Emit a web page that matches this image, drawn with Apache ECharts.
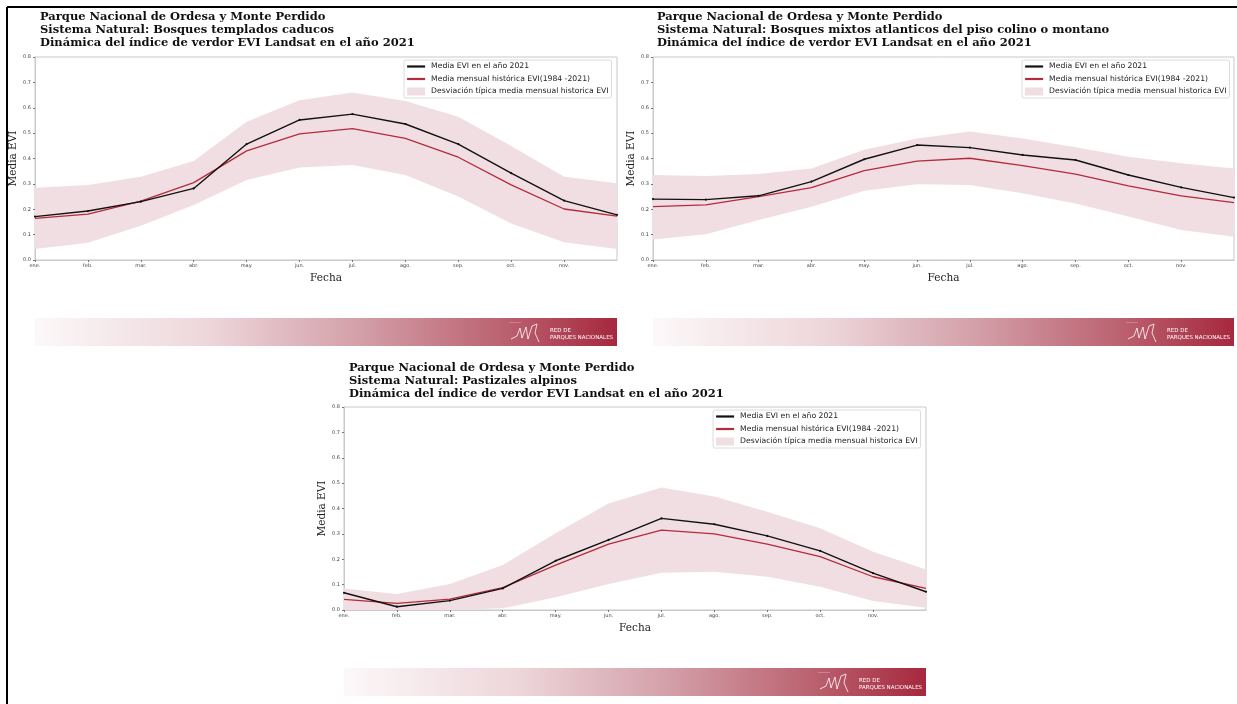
<!DOCTYPE html>
<html>
<head>
<meta charset="utf-8">
<script src="https://cdn.jsdelivr.net/npm/echarts@6/dist/echarts.min.js"></script>
<style>html,body{margin:0;padding:0;background:#fff}#c{width:1237px;height:704px}</style>
</head>
<body>
<div id="c"></div>
<script>
// ---- data ----
const months = ['ene.', 'feb.', 'mar.', 'abr.', 'may.', 'jun.', 'jul.', 'ago.', 'sep.', 'oct.', 'nov.', 'dic.'];
const yTicks = [0.0, 0.1, 0.2, 0.3, 0.4, 0.5, 0.6, 0.7, 0.8];

const titleParque = 'Parque Nacional de Ordesa y Monte Perdido';
const titleDinamica = 'Dinámica del índice de verdor EVI Landsat en el año 2021';
const sistemas = [
  'Sistema Natural: Bosques templados caducos',
  'Sistema Natural: Bosques mixtos atlanticos del piso colino o montano',
  'Sistema Natural: Pastizales alpinos'
];
const legendNames = ['Media EVI en el año 2021', 'Media mensual histórica EVI(1984 -2021)', 'Desviación típica media mensual historica EVI'];

// Bosques templados caducos
const caducos2021 = [0.171, 0.193, 0.230, 0.282, 0.457, 0.552, 0.575, 0.536, 0.457, 0.342, 0.234, 0.178];
const caducosHist = [0.164, 0.181, 0.232, 0.305, 0.430, 0.497, 0.518, 0.479, 0.405, 0.296, 0.201, 0.173];
const caducosSup  = [0.285, 0.296, 0.328, 0.390, 0.545, 0.630, 0.660, 0.627, 0.565, 0.449, 0.328, 0.302];
const caducosInf  = [0.043, 0.068, 0.135, 0.217, 0.315, 0.365, 0.374, 0.335, 0.250, 0.144, 0.070, 0.043];

// Bosques mixtos atlanticos
const mixtos2021 = [0.240, 0.238, 0.253, 0.309, 0.397, 0.453, 0.443, 0.414, 0.394, 0.335, 0.286, 0.246];
const mixtosHist = [0.210, 0.217, 0.250, 0.285, 0.352, 0.390, 0.401, 0.372, 0.338, 0.292, 0.253, 0.226];
const mixtosSup  = [0.335, 0.331, 0.339, 0.361, 0.434, 0.479, 0.506, 0.479, 0.444, 0.407, 0.381, 0.361];
const mixtosInf  = [0.081, 0.101, 0.158, 0.210, 0.273, 0.299, 0.296, 0.263, 0.223, 0.171, 0.118, 0.092];

// Pastizales alpinos
const pastizales2021 = [0.068, 0.013, 0.037, 0.085, 0.194, 0.276, 0.361, 0.338, 0.292, 0.233, 0.145, 0.072];
const pastizalesHist = [0.042, 0.026, 0.043, 0.088, 0.177, 0.260, 0.315, 0.300, 0.260, 0.210, 0.131, 0.085];
const pastizalesSup  = [0.085, 0.063, 0.102, 0.177, 0.302, 0.420, 0.483, 0.447, 0.387, 0.322, 0.230, 0.160];
const pastizalesInf  = [0.000, 0.000, 0.000, 0.007, 0.050, 0.102, 0.147, 0.151, 0.131, 0.092, 0.035, 0.009];

// ---- layout / styles ----
const panels = [
  {sistema: sistemas[0], y21: caducos2021, hist: caducosHist, sup: caducosSup, inf: caducosInf,
   grid: {left: 35, top: 57, width: 582, height: 203}, title: {left: 40, top: 11}, legend: {left: 404, top: 60},
   banner: {x: 35, y: 318, w: 582, h: 28}},
  {sistema: sistemas[1], y21: mixtos2021, hist: mixtosHist, sup: mixtosSup, inf: mixtosInf,
   grid: {left: 653, top: 57, width: 581, height: 203}, title: {left: 657, top: 11}, legend: {left: 1022, top: 60},
   banner: {x: 653, y: 318, w: 581, h: 28}},
  {sistema: sistemas[2], y21: pastizales2021, hist: pastizalesHist, sup: pastizalesSup, inf: pastizalesInf,
   grid: {left: 344, top: 407, width: 582, height: 203}, title: {left: 349, top: 362}, legend: {left: 713, top: 410},
   banner: {x: 344, y: 668, w: 582, h: 28}}
];

const BLACK = '#111111';
const RED = '#b52b3c';
const PINK = '#f0dee2';
const AXIS = '#c9c9c9';

const option = {
  animation: false,
  backgroundColor: '#ffffff',
  title: [], grid: [], xAxis: [], yAxis: [], legend: [], series: [], graphic: []
};

panels.forEach((p, i) => {
  option.title.push({
    text: titleParque + '\n' + p.sistema + '\n' + titleDinamica,
    left: p.title.left, top: p.title.top, padding: 0,
    textStyle: {fontFamily: 'DejaVu Serif', fontWeight: 'bold', fontSize: 11.5, lineHeight: 13, color: '#111'}
  });
  option.grid.push(Object.assign({show: true, borderColor: AXIS, borderWidth: 1, backgroundColor: '#fff'}, p.grid));
  option.xAxis.push({
    type: 'category', gridIndex: i, data: months, boundaryGap: false,
    name: 'Fecha', nameLocation: 'middle', nameGap: 13,
    nameTextStyle: {fontFamily: 'DejaVu Serif', fontSize: 10.5, color: '#222'},
    axisLine: {show: true, lineStyle: {color: AXIS, width: 1}},
    axisTick: {show: true, length: 2, lineStyle: {color: '#777'}, interval: (idx) => idx < months.length - 1, alignWithLabel: true},
    axisLabel: {fontFamily: 'DejaVu Sans', fontSize: 5, color: '#444', margin: 3, interval: (idx) => idx < months.length - 1},
    splitLine: {show: false}
  });
  option.yAxis.push({
    type: 'value', gridIndex: i, min: yTicks[0], max: yTicks[yTicks.length - 1], interval: 0.1,
    name: 'Media EVI', nameLocation: 'middle', nameGap: 14, nameRotate: 90,
    nameTextStyle: {fontFamily: 'DejaVu Serif', fontSize: 10.5, color: '#222'},
    axisLine: {show: true, lineStyle: {color: AXIS, width: 1}},
    axisTick: {show: true, length: 2, lineStyle: {color: '#777'}},
    axisLabel: {fontFamily: 'DejaVu Sans', fontSize: 5, color: '#444', margin: 4, formatter: (v) => v.toFixed(1)},
    splitLine: {show: false}
  });
  const band = p.sup.map((v, k) => +(v - p.inf[k]).toFixed(4));
  option.series.push(
    {name: 'inf' + i, type: 'line', xAxisIndex: i, yAxisIndex: i, data: p.inf, stack: 'band' + i,
     symbol: 'none', lineStyle: {opacity: 0}, silent: true, z: 1},
    {name: legendNames[2], type: 'line', xAxisIndex: i, yAxisIndex: i, data: band, stack: 'band' + i,
     symbol: 'none', color: PINK, lineStyle: {opacity: 0}, areaStyle: {color: PINK, opacity: 1}, silent: true, z: 1},
    {name: legendNames[1], type: 'line', xAxisIndex: i, yAxisIndex: i, data: p.hist,
     symbol: 'none', color: RED, lineStyle: {color: RED, width: 1.3}, z: 2},
    {name: legendNames[0], type: 'line', xAxisIndex: i, yAxisIndex: i, data: p.y21,
     symbol: 'circle', symbolSize: 2.2, showSymbol: true, color: BLACK, itemStyle: {color: BLACK},
     lineStyle: {color: BLACK, width: 1.4}, z: 3}
  );
  option.legend.push({
    left: p.legend.left, top: p.legend.top, orient: 'vertical',
    backgroundColor: '#fff', borderColor: '#dcdcdc', borderWidth: 1, borderRadius: 2,
    padding: [2.5, 3, 2.5, 2], itemGap: 4.5, itemWidth: 18, itemHeight: 8,
    selectedMode: false,
    textStyle: {fontFamily: 'DejaVu Sans', fontSize: 7.7, color: '#222', padding: [0, 0, 0, 1]},
    data: [
      {name: legendNames[0], itemStyle: {opacity: 0}, lineStyle: {width: 2.2, color: BLACK}},
      {name: legendNames[1], itemStyle: {opacity: 0}, lineStyle: {width: 2.2, color: RED}},
      {name: legendNames[2], icon: 'rect', itemStyle: {color: PINK, opacity: 1}}
    ]
  });
  // banner
  const b = p.banner;
  option.graphic.push(
    {type: 'rect', shape: {x: b.x, y: b.y, width: b.w, height: b.h}, silent: true,
     style: {fill: new echarts.graphic.LinearGradient(0, 0, 1, 0, [
       {offset: 0, color: '#fcf8f9'}, {offset: 0.3, color: '#edd6da'}, {offset: 0.55, color: '#d4a1aa'},
       {offset: 0.8, color: '#bb6371'}, {offset: 1, color: '#a6283e'}])}},
    {type: 'polyline', silent: true,
     shape: {points: [[b.x + b.w - 106, b.y + 21], [b.x + b.w - 100, b.y + 18], [b.x + b.w - 97, b.y + 10], [b.x + b.w - 95, b.y + 20],
                      [b.x + b.w - 91, b.y + 9], [b.x + b.w - 89, b.y + 21], [b.x + b.w - 85, b.y + 8], [b.x + b.w - 80, b.y + 6],
                      [b.x + b.w - 82, b.y + 15], [b.x + b.w - 78, b.y + 24]]},
     style: {stroke: '#ffffff', lineWidth: 0.8, fill: null}},
    {type: 'text', silent: true, x: b.x + b.w - 108, y: b.y + 3,
     style: {text: '————', fill: '#ffffff', font: '3px DejaVu Sans'}},
    {type: 'text', silent: true, x: b.x + b.w - 67, y: b.y + 9,
     style: {text: 'RED DE\nPARQUES NACIONALES', fill: '#ffffff', font: '5.5px DejaVu Sans', lineHeight: 7}}
  );
});

// figure border (left and top)
option.graphic.push(
  {type: 'line', silent: true, shape: {x1: 7, y1: 7, x2: 1237, y2: 7}, style: {stroke: '#000', lineWidth: 2}},
  {type: 'line', silent: true, shape: {x1: 7, y1: 7, x2: 7, y2: 704}, style: {stroke: '#000', lineWidth: 2}}
);

const chart = echarts.init(document.getElementById('c'), null, {renderer: 'canvas'});
chart.setOption(option);
</script>
</body>
</html>
